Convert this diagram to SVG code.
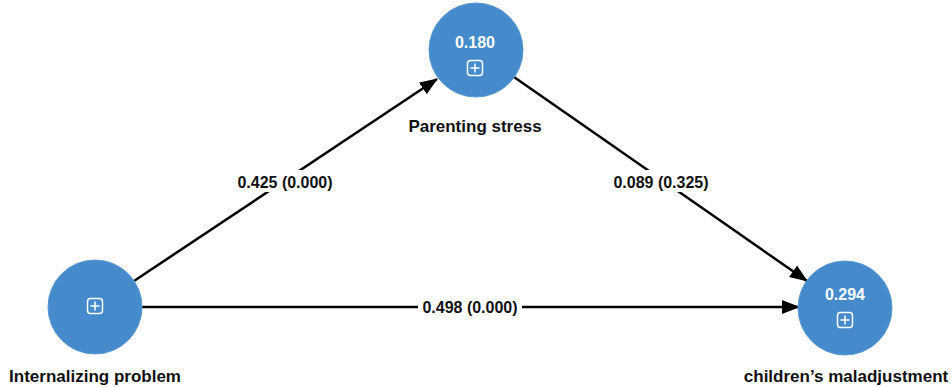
<svg xmlns="http://www.w3.org/2000/svg" width="952" height="387" viewBox="0 0 952 387">
<style>
.node{fill:#458ACB;stroke:#5b9ad4;stroke-width:1}
.val{font-family:"Liberation Sans",Arial,sans-serif;font-weight:bold;font-size:16px;fill:#ffffff;text-anchor:middle}
.name{font-family:"Liberation Sans",Arial,sans-serif;font-weight:bold;font-size:17px;fill:#111111;text-anchor:middle}
.elab{font-family:"Liberation Sans",Arial,sans-serif;font-weight:bold;font-size:16px;fill:#111111;text-anchor:middle}
.icon{fill:none;stroke:#ffffff;stroke-width:1.5}
.edge{stroke:#000000;stroke-width:2.5;fill:none}
.bg{fill:#ffffff}
</style>
<defs>
<marker id="arr" markerUnits="userSpaceOnUse" markerWidth="18" markerHeight="14" refX="17" refY="7" orient="auto">
<path d="M0,0 L18,7 L0,14 Z" fill="#000000"/>
</marker>
</defs>
<rect width="952" height="387" fill="#ffffff"/>
<g id="connectors">
<line class="edge" x1="134" y1="281" x2="437" y2="79" marker-end="url(#arr)"/>
<line class="edge" x1="514" y1="77" x2="807" y2="281" marker-end="url(#arr)"/>
<line class="edge" x1="142" y1="307" x2="799" y2="307" marker-end="url(#arr)"/>
<rect class="bg" x="234" y="170" width="102" height="22"/>
<text class="elab" x="285" y="188">0.425 (0.000)</text>
<rect class="bg" x="610" y="170" width="102" height="22"/>
<text class="elab" x="661" y="188">0.089 (0.325)</text>
<rect class="bg" x="418" y="296" width="104" height="22"/>
<text class="elab" x="470" y="313">0.498 (0.000)</text>
</g>
<g id="parenting">
<circle class="node" cx="476" cy="50" r="47"/>
<text class="val" x="475" y="48">0.180</text>
<rect class="icon" x="467.5" y="60.5" width="15" height="15" rx="3"/>
<path class="icon" d="M475,63.5 V72.5 M470.5,68 H479.5"/>
<text class="name" x="475" y="132">Parenting stress</text>
</g>
<g id="internalizing">
<circle class="node" cx="95" cy="307" r="47"/>
<rect class="icon" x="87.5" y="298.5" width="15" height="15" rx="3"/>
<path class="icon" d="M95,301.5 V310.5 M90.5,306 H99.5"/>
<text class="name" x="95" y="382">Internalizing problem</text>
</g>
<g id="maladjustment">
<circle class="node" cx="845" cy="308" r="47"/>
<text class="val" x="845" y="300">0.294</text>
<rect class="icon" x="837.5" y="312.5" width="15" height="15" rx="3"/>
<path class="icon" d="M845,315.5 V324.5 M840.5,320 H849.5"/>
<text class="name" x="846" y="382">children’s maladjustment</text>
</g>
</svg>
